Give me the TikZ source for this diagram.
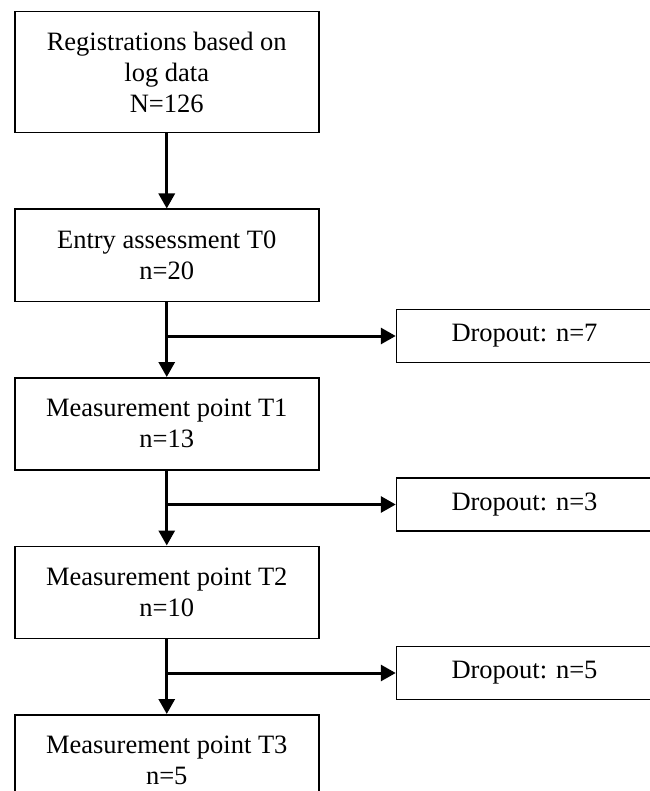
\documentclass[tikz,border=0pt]{standalone}
\usepackage{fontspec}
\setmainfont{Liberation Serif}
\usetikzlibrary{arrows.meta,positioning}
\tikzset{
  stagebox/.style={draw=black,line width=1.5pt,align=center,inner sep=0pt,
    minimum width=304pt,minimum height=92pt,font=\fontsize{26.5}{31}\selectfont},
  dropbox/.style={draw=black,line width=1.5pt,align=center,inner sep=0pt,
    minimum width=256pt,minimum height=53pt,font=\fontsize{26.5}{31}\selectfont},
  flowarrow/.style={-{Triangle[length=15pt,width=16pt]},line width=3pt}
}
\begin{document}
\begin{tikzpicture}[node distance=75pt]
  \useasboundingbox (0,0) rectangle (649pt,-791pt);
  \node[stagebox,minimum height=121pt,anchor=north west] (reg) at (14pt,-11pt) {Registrations based on\\log data\\N=126};
  \node[stagebox,below=of reg] (t0) {Entry assessment T0\\n=20};
  \node[stagebox,below=of t0] (t1) {Measurement point T1\\n=13};
  \node[stagebox,below=of t1] (t2) {Measurement point T2\\n=10};
  \node[stagebox,below=of t2] (t3) {Measurement point T3\\n=5};
  \coordinate[below=34pt of t0] (b1);
  \coordinate[below=34pt of t1] (b2);
  \coordinate[below=34pt of t2] (b3);
  \node[dropbox,right=229pt of b1] (d1) {Dropout: n=7};
  \node[dropbox,right=229pt of b2] (d2) {Dropout: n=3};
  \node[dropbox,right=229pt of b3] (d3) {Dropout: n=5};
  \draw[flowarrow] (reg) -- (t0);
  \draw[flowarrow] (t0) -- (t1);
  \draw[flowarrow] (t1) -- (t2);
  \draw[flowarrow] (t2) -- (t3);
  \draw[flowarrow] (b1) -- (d1);
  \draw[flowarrow] (b2) -- (d2);
  \draw[flowarrow] (b3) -- (d3);
\end{tikzpicture}
\end{document}
